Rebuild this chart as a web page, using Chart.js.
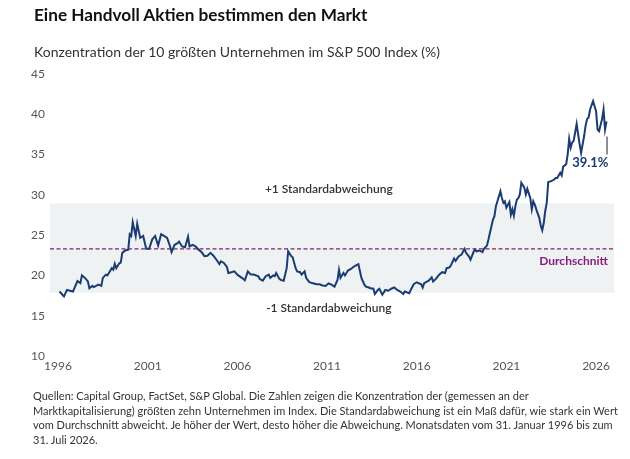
<!DOCTYPE html>
<html><head><meta charset="utf-8">
<script src="https://cdn.jsdelivr.net/npm/chart.js@4"></script>
<style>
body{margin:0;width:630px;height:459px;background:#fff;font-family:Lato,"Noto Sans",sans-serif;position:relative;overflow:hidden}
#wrap{position:absolute;left:0;top:0;width:630px;height:459px}
.title{position:absolute;left:34px;top:5px;font-size:17.2px;line-height:20px;font-weight:700;color:#111;white-space:nowrap}
.sub{position:absolute;left:34px;top:43px;font-size:14px;color:#333;white-space:nowrap}
.note{position:absolute;left:33px;top:389px;font-size:11px;line-height:14.7px;color:#333;white-space:nowrap}
</style></head>
<body>
<div id="wrap"><canvas id="c"></canvas></div>
<div class="title">Eine Handvoll Aktien bestimmen den Markt</div>
<div class="sub">Konzentration der 10 größten Unternehmen im S&amp;P 500 Index (%)</div>
<div class="note">Quellen: Capital Group, FactSet, S&amp;P Global. Die Zahlen zeigen die Konzentration der (gemessen an der<br>Marktkapitalisierung) größten zehn Unternehmen im Index. Die Standardabweichung ist ein Maß dafür, wie stark ein Wert<br>vom Durchschnitt abweicht. Je höher der Wert, desto höher die Abweichung. Monatsdaten vom 31. Januar 1996 bis zum<br>31. Juli 2026.</div>
<script>
const dates = ["1996-01","1996-04","1996-06","1996-08","1996-10","1997-01","1997-03","1997-04","1997-06","1997-08","1997-09","1997-11","1997-12",
"1998-03","1998-05","1998-06","1998-08","1998-09","1998-12","1999-01","1999-02","1999-03","1999-05","1999-06","1999-07","1999-09","1999-11","1999-12",
"2000-01","2000-02","2000-04","2000-05","2000-07","2000-09","2000-11","2001-01","2001-03","2001-05","2001-07","2001-09","2001-11",
"2002-01","2002-03","2002-04","2002-06","2002-08","2002-09","2002-11","2003-01","2003-03","2003-04","2003-06","2003-08","2003-10","2003-12",
"2004-02","2004-04","2004-06","2004-08","2004-10","2004-12","2005-01","2005-03","2005-05","2005-06","2005-08","2005-10","2005-12",
"2006-03","2006-05","2006-07","2006-09","2006-11","2007-02","2007-03","2007-05","2007-07","2007-09","2007-10","2007-12",
"2008-01","2008-02","2008-04","2008-05","2008-07","2008-09","2008-10","2008-12","2009-01","2009-03","2009-04","2009-06","2009-07","2009-09","2009-10","2009-12",
"2010-02","2010-05","2010-07","2010-09","2010-11","2011-01","2011-03","2011-05","2011-07","2011-08","2011-09","2011-11","2011-12",
"2012-02","2012-04","2012-06","2012-08","2012-09","2012-11","2013-01","2013-02","2013-04","2013-05","2013-07","2013-08","2013-10","2013-11",
"2014-01","2014-03","2014-05","2014-07","2014-09","2014-11","2015-01","2015-03","2015-04","2015-07","2015-08","2015-10","2015-12",
"2016-03","2016-04","2016-05","2016-08","2016-10","2016-11","2017-01","2017-03","2017-05","2017-07","2017-08","2017-10","2017-11",
"2018-01","2018-02","2018-04","2018-06","2018-08","2018-09","2018-11","2018-12","2019-02","2019-03","2019-04","2019-06","2019-08","2019-09","2019-11","2019-12",
"2020-01","2020-03","2020-04","2020-05","2020-06","2020-08","2020-09","2020-10","2020-11","2020-12","2021-02","2021-03","2021-04","2021-05","2021-06","2021-07","2021-08","2021-09","2021-10","2021-12",
"2022-01","2022-02","2022-04","2022-05","2022-06","2022-07","2022-08","2022-10","2022-11","2022-12","2023-01","2023-02","2023-03","2023-04","2023-06","2023-08","2023-09","2023-10","2023-12",
"2024-01","2024-02","2024-04","2024-05","2024-06","2024-07","2024-08","2024-09","2024-11","2024-12","2025-01","2025-02","2025-04","2025-05","2025-06","2025-07","2025-08","2025-10","2025-11","2025-12",
"2026-01","2026-02","2026-04","2026-05","2026-06","2026-07"];
const values = [18.0,17.4,18.2,18.1,18.0,19.3,19.05,20.0,19.7,19.25,18.4,18.7,18.55,
18.85,18.7,19.7,20.1,20.0,20.9,20.7,21.45,20.9,21.5,21.6,22.8,23.1,23.2,25.1,
24.9,26.6,24.9,26.4,24.65,24.9,23.3,23.3,24.45,24.9,23.7,25.1,24.9,
24.65,23.6,22.9,23.8,24.0,24.2,23.6,23.5,24.8,23.6,23.8,23.6,23.2,22.9,
22.4,22.45,22.8,22.45,21.95,21.4,21.75,21.55,21.05,20.3,20.4,20.5,20.1,
19.7,19.4,20.5,20.1,20.1,19.9,19.55,19.35,19.9,20.1,19.7,20.0,
19.9,20.3,19.6,19.45,19.35,20.9,23.0,22.4,22.25,20.9,20.5,20.4,20.1,20.5,19.7,19.2,
19.05,18.9,18.9,18.75,18.7,19.0,18.85,18.6,19.45,20.7,19.7,20.3,20.0,
20.6,20.8,21.1,21.3,21.4,19.7,18.85,18.6,18.5,18.4,18.35,17.7,18.2,18.35,
17.6,18.2,18.1,18.35,18.5,18.2,18.0,17.7,18.0,17.8,18.2,18.9,19.15,
18.9,18.5,19.05,19.35,19.75,19.25,19.6,20.1,20.4,20.3,20.9,21.0,21.3,
22.1,21.8,22.35,22.6,23.3,22.8,22.35,21.95,22.9,23.2,23.0,23.1,22.9,23.3,23.7,24.45,
25.3,26.9,27.35,28.6,29.2,30.45,29.6,29.0,29.2,28.4,29.1,27.55,28.2,27.4,28.6,29.4,29.6,30.05,31.5,30.9,
30.05,30.75,29.6,28.2,29.2,28.8,28.2,27.15,26.2,25.6,26.5,28.0,29.0,31.6,31.7,31.9,32.1,32.1,32.75,
32.4,33.5,33.8,35.0,36.95,35.85,36.5,36.7,38.8,37.5,36.3,35.2,37.3,38.6,39.4,39.6,40.6,41.65,41.0,40.4,
38.1,37.9,39.4,40.6,38.1,39.1];
const xTicks = [1996,2001,2006,2011,2016,2021,2026];
const xTickLabels = ["1996","2001","2006","2011","2016","2021","2026"];
const yTicks = [10,15,20,25,30,35,40,45];
const meanValue = 23.29;
const bandLow = 17.85;
const bandHigh = 28.93;
const lastLabel = "39.1%";
const labelUpper = "+1 Standardabweichung";
const labelLower = "-1 Standardabweichung";
const labelMean = "Durchschnitt";

function toYear(s){const [y,m]=s.split("-").map(Number);return y+m/12;}
const pts = dates.map((d,i)=>({x:toYear(d),y:values[i]}));

const FONT = 'Lato, "Noto Sans", sans-serif';
const bandPlugin = {
  id:'band',
  beforeDatasetsDraw(chart){
    const {ctx,chartArea:a,scales:{y}} = chart;
    const yh=y.getPixelForValue(bandHigh), yl=y.getPixelForValue(bandLow), ym=y.getPixelForValue(meanValue);
    ctx.save();
    ctx.fillStyle='#eef2f3';
    ctx.fillRect(a.left,yh,a.right-a.left,yl-yh);
    ctx.strokeStyle='#84206f';
    ctx.lineWidth=1.3;
    ctx.setLineDash([4,2.5]);
    ctx.beginPath();ctx.moveTo(a.left,ym);ctx.lineTo(a.right,ym);ctx.stroke();
    ctx.restore();
  },
  afterDatasetsDraw(chart){
    const {ctx,chartArea:a,scales:{x,y}} = chart;
    const yh=y.getPixelForValue(bandHigh), yl=y.getPixelForValue(bandLow), ym=y.getPixelForValue(meanValue);
    const cx = x.getPixelForValue(2011.1);
    ctx.save();
    ctx.textBaseline='middle';
    ctx.fillStyle='#333';
    ctx.font='600 12px '+FONT;
    ctx.textAlign='center';
    ctx.fillText(labelUpper,cx,yh-14);
    ctx.fillText(labelLower,cx,yl+15);
    ctx.fillStyle='#8b1a7e';
    ctx.font='bold 12px '+FONT;
    ctx.textAlign='right';
    ctx.fillText(labelMean,a.right-6,ym+12);
    const lp = pts[pts.length-1];
    const lx = x.getPixelForValue(lp.x), ly = y.getPixelForValue(lp.y);
    ctx.strokeStyle='#222';
    ctx.lineWidth=1;
    ctx.beginPath();ctx.moveTo(lx+0.5,ly+15);ctx.lineTo(lx+0.5,ly+33);ctx.stroke();
    ctx.fillStyle='#1a3c72';
    ctx.font='bold 13px '+FONT;
    ctx.textAlign='right';
    ctx.fillText(lastLabel,lx+2,ly+41);
    ctx.restore();
  }
};

new Chart(document.getElementById('c'),{
  type:'line',
  data:{datasets:[{data:pts,borderColor:'#1a3c72',borderWidth:2,pointRadius:0,tension:0,fill:false}]},
  options:{
    responsive:true,maintainAspectRatio:false,animation:false,
    layout:{padding:{left:0,right:16,top:74,bottom:83}},
    plugins:{legend:{display:false},tooltip:{enabled:false}},
    scales:{
      x:{type:'linear',min:1995.554,max:2027.0,
        afterBuildTicks(s){s.ticks=xTicks.map(v=>({value:v}));},
        afterFit(s){s.height=20;},
        grid:{display:false,drawTicks:false},border:{display:false},
        ticks:{color:'#555',font:{family:FONT,size:12},padding:3,maxRotation:0,autoSkip:false,
          callback:(v)=>{const i=xTicks.indexOf(v);return i>=0?xTickLabels[i]:'';}}},
      y:{min:10,max:45,
        afterBuildTicks(s){s.ticks=yTicks.map(v=>({value:v}));},
        afterFit(s){s.width=50;},
        grid:{display:false,drawTicks:false},border:{display:false},
        ticks:{color:'#555',font:{family:FONT,size:12},padding:5}}
    }
  },
  plugins:[bandPlugin]
});
</script>
</body></html>
